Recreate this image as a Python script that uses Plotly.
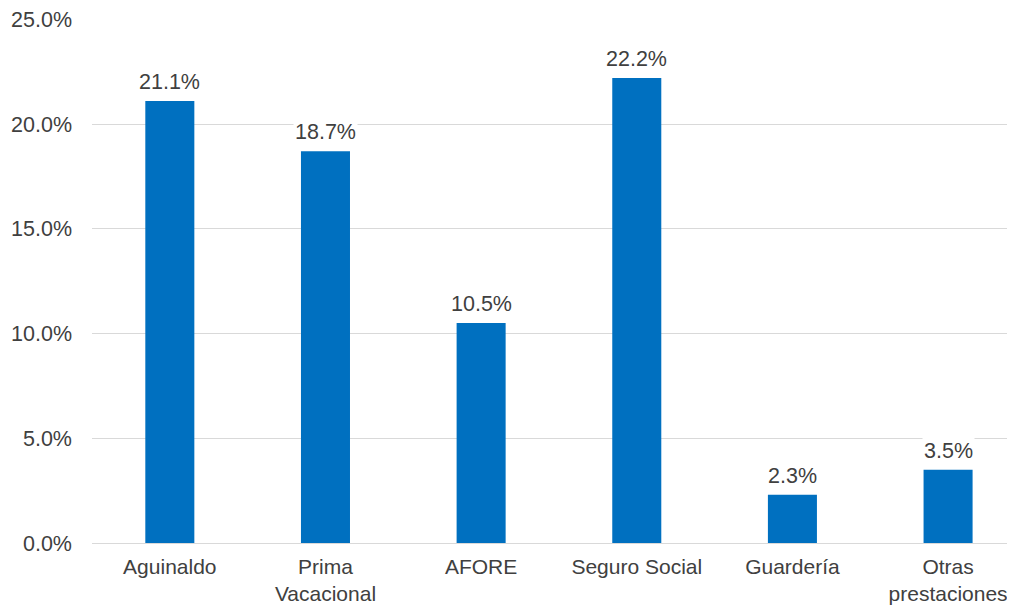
import plotly.graph_objects as go

categories = ["Aguinaldo", "Prima<br>Vacacional", "AFORE", "Seguro Social", "Guardería", "Otras<br>prestaciones"]
values = [21.1, 18.7, 10.5, 22.2, 2.3, 3.5]
y_ticks = [0, 5, 10, 15, 20, 25]
y_tick_labels = ["0.0%", "5.0%", "10.0%", "15.0%", "20.0%", "25.0%"]

FONT = "Liberation Sans, Arial, sans-serif"
TXT = "#404040"
FS = 21.5

fig = go.Figure()
fig.add_trace(go.Bar(
    x=categories, y=values, marker_color="#0070C0", width=0.315,
    marker_line_width=0, showlegend=False, hoverinfo="skip",
))

for c, v in zip(categories, values):
    fig.add_annotation(
        x=c, y=v, text=f"{v:.1f}%", showarrow=False, yanchor="bottom",
        yshift=5, bgcolor="white", borderpad=1,
        font=dict(family=FONT, size=FS, color=TXT),
    )

fig.update_layout(
    width=1007, height=597,
    margin=dict(l=84, r=0, t=11, b=62, autoexpand=False),
    plot_bgcolor="white", paper_bgcolor="white",
    font=dict(family=FONT, size=FS, color=TXT),
)
fig.update_xaxes(
    range=[-0.5, 5.43], showgrid=False, showline=False, ticks="",
    tickfont=dict(family=FONT, size=21, color=TXT), ticklabelstandoff=9,
    automargin=False,
)
fig.update_yaxes(
    range=[0, 25.02], tickvals=y_ticks, ticktext=y_tick_labels,
    showgrid=True, gridcolor="#D9D9D9", gridwidth=1,
    zeroline=True, zerolinecolor="#D9D9D9", zerolinewidth=1,
    showline=False, ticks="", ticklabelstandoff=19,
    ticklabeloverflow="allow",
    tickfont=dict(family=FONT, size=FS, color=TXT), automargin=False,
)

fig.write_html("out.html")
